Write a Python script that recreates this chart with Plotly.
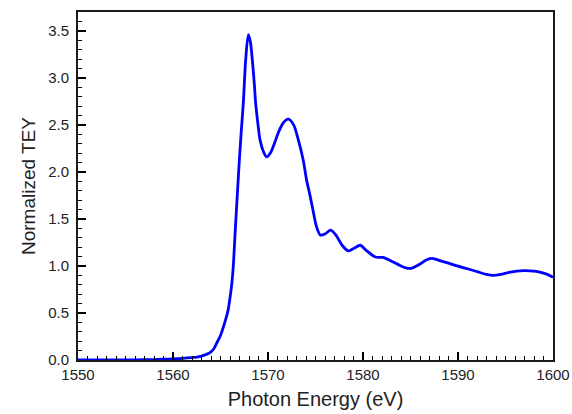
import plotly.graph_objects as go

energy = [1550, 1552, 1554, 1556, 1558, 1559, 1560, 1561, 1562, 1562.5, 1563.0, 1563.5,
          1563.9, 1564.3, 1564.6, 1565.0, 1565.3, 1565.6, 1565.8, 1566.0, 1566.2, 1566.35,
          1566.5, 1566.65, 1566.8, 1567.0, 1567.2, 1567.4, 1567.65, 1567.93, 1568.15, 1568.35,
          1568.55, 1568.7, 1568.95, 1569.16, 1569.5, 1569.86, 1570.3, 1570.7, 1571.1, 1571.6,
          1572.14, 1572.7, 1573.19, 1573.7, 1574.07, 1574.4, 1574.8, 1575.1, 1575.5, 1576.0,
          1576.6, 1577.2, 1577.8, 1578.45, 1579.1, 1579.7, 1580.4, 1581.3, 1582.1, 1583.0,
          1583.9, 1584.5, 1585.1, 1586.0, 1586.6, 1587.2, 1588.0, 1589.0, 1589.9, 1591.0,
          1592.0, 1593.0, 1593.7, 1594.5, 1595.5, 1596.9, 1598.0, 1598.8, 1599.4, 1600]
tey = [0.0, 0.0, 0.0, 0.002, 0.005, 0.008, 0.012, 0.018, 0.026, 0.031, 0.042, 0.06,
       0.078, 0.12, 0.18, 0.26, 0.35, 0.45, 0.53, 0.66, 0.82, 1.0,
       1.28, 1.55, 1.81, 2.15, 2.45, 2.73, 3.19, 3.46, 3.38, 3.19,
       2.95, 2.73, 2.5, 2.34, 2.22, 2.16, 2.21, 2.31, 2.42, 2.52,
       2.56, 2.5, 2.34, 2.13, 1.91, 1.76, 1.56, 1.42, 1.33, 1.34,
       1.38, 1.32, 1.22, 1.16, 1.19, 1.22, 1.16, 1.095, 1.09, 1.05,
       1.005, 0.98, 0.975, 1.02, 1.06, 1.08, 1.06, 1.03, 1.0, 0.97,
       0.94, 0.91, 0.90, 0.91, 0.935, 0.95, 0.945, 0.93, 0.91, 0.88]

x_tick_start, x_tick_step = 1550, 10
y_tick_start, y_tick_step = 0.0, 0.5

fig = go.Figure()
fig.add_trace(go.Scatter(
    x=energy, y=tey, mode="lines",
    line=dict(color="#0000FF", width=2.8, shape="spline", smoothing=0.8),
    showlegend=False, hoverinfo="skip"))

font = "Liberation Sans, Arial, sans-serif"
axis_common = dict(
    showline=True, linecolor="#1a1a1a", linewidth=1.5, mirror=True,
    showgrid=False, automargin=False,
    ticks="inside", tickcolor="#000000", tickwidth=1.5, ticklen=8,
    tickfont=dict(family=font, size=15, color="#222222"),
)

fig.update_xaxes(
    range=[1550, 1600], tickmode="linear", tick0=x_tick_start, dtick=x_tick_step,
    minor=dict(dtick=1, ticks="inside", ticklen=4, tickwidth=1.3, tickcolor="#000000"),
    title=dict(text="Photon Energy (eV)", font=dict(family=font, size=20, color="#222222"), standoff=10),
    **axis_common)
fig.update_yaxes(
    range=[0, 3.7], tickmode="linear", tick0=y_tick_start, dtick=y_tick_step, tickformat=".1f",
    ticksuffix="\u00a0",
    minor=dict(dtick=0.1, ticks="inside", ticklen=4, tickwidth=1.3, tickcolor="#000000"),
    title=dict(text="Normalized TEY", font=dict(family=font, size=19, color="#222222"), standoff=8),
    **axis_common)

fig.update_layout(
    width=572, height=414,
    margin=dict(l=78, r=19, t=12, b=54),
    paper_bgcolor="white", plot_bgcolor="white",
)

fig.write_html("out.html", config={"displayModeBar": False},
               post_script="document.body.style.margin='0';document.body.style.overflow='hidden';")
